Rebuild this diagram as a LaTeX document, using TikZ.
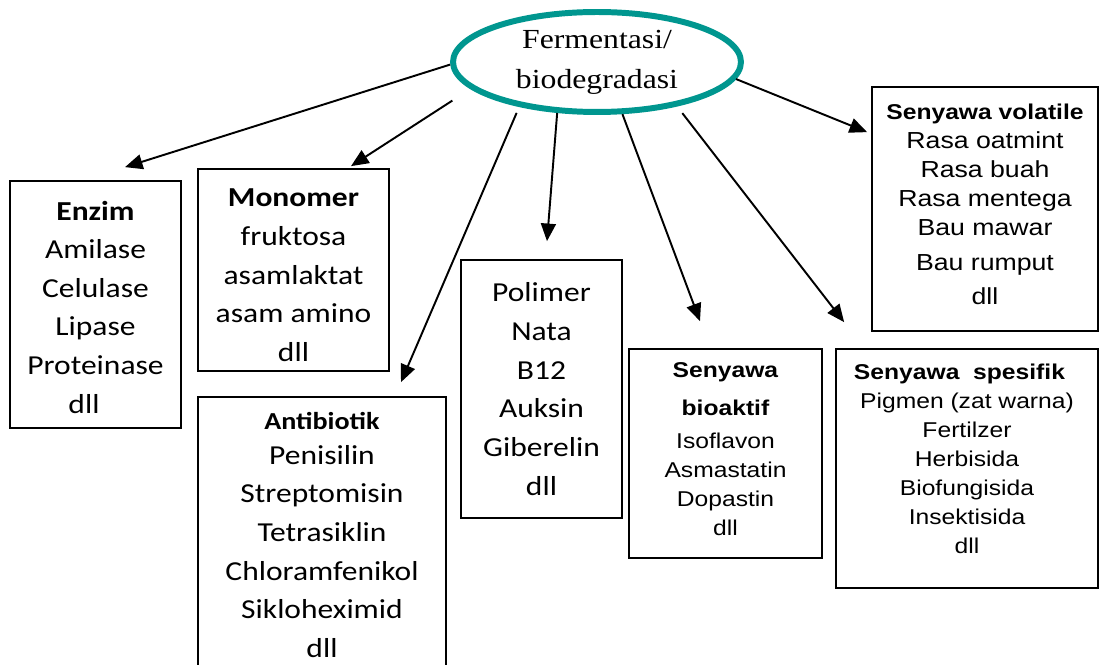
\documentclass[tikz,border=0pt]{standalone}
\usepackage{fontspec}
\setmainfont[FakeStretch=1.15]{Liberation Serif}
\newfontfamily\calfont[FakeStretch=1.15]{Carlito}
\newfontfamily\arfont[FakeStretch=1.15]{Liberation Sans}
\usepackage{xcolor}
\usepackage{tikz}
\usetikzlibrary{arrows.meta,calc,shapes.geometric}
\definecolor{hubteal}{RGB}{0,150,143}
\newcommand{\botpad}[1]{\rule[-#1]{0pt}{#1}}
\tikzset{
  hub/.style={ellipse, draw=hubteal, line width=3.4pt, minimum width=5.76cm, minimum height=2cm, inner sep=0pt, align=center, font=\fontsize{15.7}{22.7}\selectfont},
  box/.style={rectangle, draw=black, line width=1pt, inner sep=0pt, align=center},
  calbox/.style={box, font=\calfont\fontsize{15.6}{22}\selectfont},
  arbox/.style={box, font=\arfont\fontsize{12.2}{16.5}\selectfont},
  edge/.style={-{Triangle[length=10pt,width=8.5pt]}, line width=1.1pt, draw=black}
}

\begin{document}
\begin{tikzpicture}[x=0.02cm, y=-0.02cm]
  \useasboundingbox (0,0) rectangle (1100,665);

  % Centre
  \node[hub] (hub) at (597,62) {Fermentasi/\\biodegradasi};

  % Product boxes
  \node[calbox, minimum width=3.42cm, minimum height=4.94cm] (enzim) at (95.5,304.5)
    {\rule{0pt}{0.49cm}\textbf{Enzim}\\Amilase\\Celulase\\Lipase\\Proteinase\\dll\hspace*{0.46cm}};
  \node[calbox, minimum width=3.82cm, minimum height=4.04cm] (monomer) at (293.5,270)
    {\rule{0pt}{0.57cm}\textbf{Monomer}\\fruktosa\\asamlaktat\hspace*{0.42cm}\\asam amino\\dll};
  \node[calbox, minimum width=4.96cm, minimum height=5.52cm] (antib) at (322,535)
    {{\fontsize{13.9}{22}\selectfont\textbf{Antibiotik}}\\[-0.08cm]Penisilin\\Streptomisin\\Tetrasiklin\\Chloramfenikol\\Sikloheximid\\dll};
  \node[calbox, minimum width=3.22cm, minimum height=5.16cm] (polimer) at (541.5,389)
    {Polimer\\Nata\\B12\\Auksin\\Giberelin\\dll};
  \node[arbox, minimum width=3.86cm, minimum height=4.18cm] (bioaktif) at (725.5,453.5)
    {\textbf{Senyawa}\\[0.18cm]\textbf{bioaktif}\\[0.08cm]Isoflavon\\Asmastatin\\Dopastin\\dll\botpad{0.18cm}};
  \node[arbox, minimum width=5.24cm, minimum height=4.78cm] (spesifik) at (967,468.5)
    {\textbf{Senyawa\ \ spesifik}\hspace*{0.3cm}\\Pigmen (zat warna)\\Fertilzer\\Herbisida\\Biofungisida\\Insektisida\\dll\botpad{0.38cm}};
  \node[arbox, minimum width=4.52cm, minimum height=4.88cm, font=\arfont\fontsize{13.2}{16.5}\selectfont] (volatile) at (985,209)
    {{\fontsize{12.2}{16.5}\selectfont\textbf{Senyawa volatile}}\\Rasa oatmint\\Rasa buah\\Rasa mentega\\Bau mawar\\[0.12cm]Bau rumput\\[0.1cm]dll\botpad{0.2cm}};

  % Arrows from the centre
  \draw[edge] (hub.181) -- ($(enzim.north)+(29.5,-13)$);
  \draw[edge, shorten <=0.43cm] (hub.192) -- ($(monomer.north)+(57.5,-2)$);
  \draw[edge, shorten <=0.13cm] (hub.210) -- ($(antib.north)+(79,-14)$);
  \draw[edge] (hub.232) -- ($(polimer.north)+(5.5,-18)$);
  \draw[edge] (hub.296) -- ($(bioaktif.north)+(-25.5,-27)$);
  \draw[edge, shorten <=0.17cm] (hub.331) -- ($(spesifik.north west)+(9,-26)$);
  \draw[edge] (hub.353) -- ($(volatile.north west)+(-4,46)$);

\end{tikzpicture}
\end{document}
